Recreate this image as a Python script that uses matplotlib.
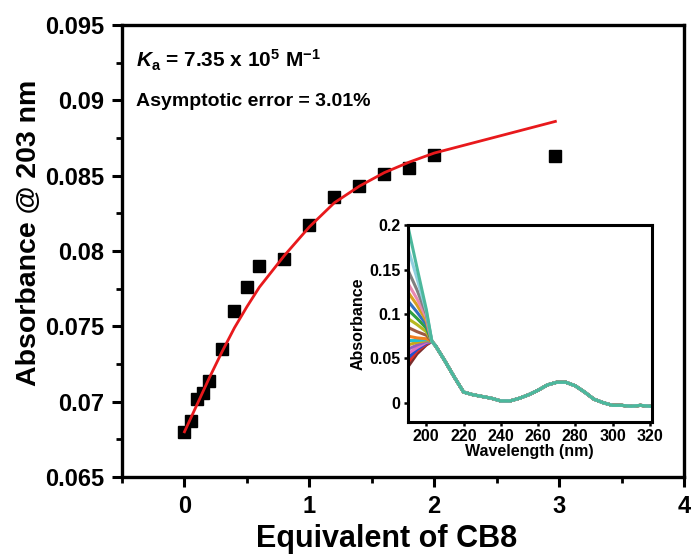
import matplotlib
matplotlib.use("Agg")
import matplotlib.pyplot as plt
from matplotlib.ticker import MultipleLocator, FuncFormatter

font = {'family': 'Liberation Sans', 'weight': 'bold', 'size': 17}
matplotlib.rc('font', **font)
plt.rcParams['axes.labelweight'] = 'bold'
plt.rcParams['mathtext.fontset'] = 'custom'
plt.rcParams['mathtext.rm'] = 'Liberation Sans:bold'
plt.rcParams['mathtext.it'] = 'Liberation Sans:italic:bold'
plt.rcParams['mathtext.bf'] = 'Liberation Sans:bold'

# titration data (absorbance at 203 nm vs equivalents of CB8)
equiv = [0, 0.05, 0.1, 0.15, 0.2, 0.3, 0.4, 0.5, 0.6, 0.8, 1.0, 1.2, 1.4, 1.6, 1.8, 2.0, 2.97]
absorb = [0.0680, 0.0687, 0.0702, 0.0706, 0.0714, 0.0735, 0.0760, 0.0776, 0.0790,
          0.0795, 0.0817, 0.0836, 0.0843, 0.0851, 0.0855, 0.0864, 0.0863]
fit_abs = [0.0680, 0.0689, 0.0698, 0.0707, 0.0716, 0.0733, 0.0749, 0.0763, 0.0776,
           0.0797, 0.0816, 0.0832, 0.0843, 0.0852, 0.0859, 0.0865, 0.0886]

# inset: UV-vis spectra during titration
head_wl = [190, 195, 200]
head_190 = [0.040, 0.045, 0.050, 0.055, 0.060, 0.065, 0.070, 0.075, 0.085,
            0.095, 0.105, 0.115, 0.125, 0.135, 0.150, 0.175, 0.200]
head_195 = [0.055, 0.058, 0.060, 0.062, 0.065, 0.068, 0.070, 0.073, 0.080,
            0.088, 0.095, 0.102, 0.110, 0.117, 0.127, 0.140, 0.152]
head_200 = [0.065, 0.066, 0.067, 0.068, 0.069, 0.070, 0.071, 0.072, 0.076,
            0.080, 0.084, 0.088, 0.092, 0.096, 0.100, 0.103, 0.105]
tail_wl = [203, 205, 210, 215, 220, 225, 230, 235, 240, 245, 250, 255, 260, 265,
           270, 275, 280, 285, 290, 295, 300, 305, 310, 315, 320]
tail_abs = [0.069, 0.064, 0.047, 0.029, 0.012, 0.009, 0.007, 0.005, 0.002, 0.002,
            0.005, 0.009, 0.014, 0.020, 0.023, 0.023, 0.019, 0.012, 0.004, 0.000,
            -0.003, -0.003, -0.004, -0.003, -0.004]
spec_colors = ['#7a2e2e', '#e0302a', '#2050d0', '#e070c0', '#9060c0', '#c8a818',
               '#20c0d0', '#f08020', '#a05a40', '#b8b820', '#30a040', '#3070c0',
               '#d8a020', '#e888b0', '#808080', '#90d0e0', '#4cb89c']


def main(outfile):
    fig = plt.figure(figsize=(6.91, 5.60), dpi=100)
    ax = fig.add_axes([0.1766, 0.1482, 0.8133, 0.8072])

    ax.plot(equiv, absorb, 's', color='black', ms=8.5, zorder=2)
    ax.plot(equiv, fit_abs, '-', color='#e8191c', lw=2.0, zorder=3)

    ax.set_xlim(-0.5, 4)
    ax.set_ylim(0.065, 0.095)
    ax.xaxis.set_major_locator(MultipleLocator(1))
    ax.xaxis.set_minor_locator(MultipleLocator(0.5))
    ax.yaxis.set_major_locator(MultipleLocator(0.005))
    ax.yaxis.set_minor_locator(MultipleLocator(0.0025))
    ax.yaxis.set_major_formatter(FuncFormatter(lambda v, p: ('%.3f' % v).rstrip('0')))
    ax.tick_params(which='major', direction='out', length=7, width=2.2, pad=6)
    ax.tick_params(which='minor', direction='out', length=4, width=2.0)
    for s in ax.spines.values():
        s.set_linewidth(2.4)

    ax.set_xlabel("Equivalent of CB8", fontsize=22)
    ax.set_ylabel("Absorbance @ 203 nm", fontsize=20.5)
    ax.xaxis.set_label_coords(0.47, -0.105)
    ax.yaxis.set_label_coords(-0.142, 0.54)

    ax.text(0.025, 0.905, r'$K_\mathrm{a}$ = 7.35 x 10$^5$ M$^{-1}$',
            transform=ax.transAxes, fontsize=15)
    ax.text(0.025, 0.82, 'Asymptotic error = 3.01%', transform=ax.transAxes, fontsize=14)

    # inset
    ins = fig.add_axes([0.590, 0.246, 0.353, 0.352])
    for i in range(len(head_190)):
        wl = head_wl + tail_wl
        ab = [head_190[i], head_195[i], head_200[i]] + tail_abs
        ins.plot(wl, ab, '-', color=spec_colors[i], lw=2.2)
    ins.set_xlim(190, 321)
    ins.set_ylim(-0.022, 0.2)
    ins.xaxis.set_major_locator(MultipleLocator(20))
    ins.yaxis.set_major_locator(MultipleLocator(0.05))
    ins.yaxis.set_major_formatter(FuncFormatter(lambda v, p: '0' if abs(v) < 1e-9 else ('%.2f' % v).rstrip('0')))
    ins.tick_params(which='major', direction='out', length=3, width=1.8, pad=2, labelsize=11.5)
    for s in ins.spines.values():
        s.set_linewidth(2.2)
    ins.set_xlabel("Wavelength (nm)", fontsize=11.5, labelpad=0)
    ins.set_ylabel("Absorbance", fontsize=11.5, labelpad=3)

    plt.savefig(outfile, dpi=100)
    plt.close(fig)


if __name__ == "__main__":
    main("out.png")
